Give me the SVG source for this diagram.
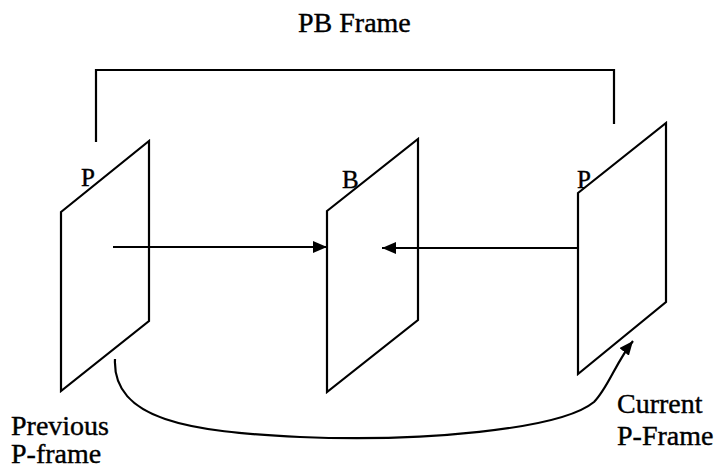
<svg xmlns="http://www.w3.org/2000/svg" width="720" height="469" viewBox="0 0 720 469">
<defs>
<style>
.ln{fill:none;stroke:#000;stroke-width:2.2}
.fr{fill:#fff;stroke:#000;stroke-width:2.2;stroke-linejoin:miter}
.t{font-family:"Liberation Serif","Times New Roman",serif;fill:#000;stroke:#000;stroke-width:0.4}
.lbl{font-size:28px}
.fl{font-size:25px}
</style>
<marker id="ah" viewBox="0 0 14 12" refX="14" refY="6" markerWidth="14" markerHeight="12" markerUnits="userSpaceOnUse" orient="auto">
<path d="M0,0 L14,6 L0,12 Z" fill="#000"/>
</marker>
</defs>
<rect width="720" height="469" fill="#fff"/>
<text class="t lbl" x="298" y="32">PB Frame</text>
<g id="frame-prev">
<polygon class="fr" points="61,212 149,141 149,321 61,391"/>
<text class="t fl" x="81" y="186">P</text>
</g>
<g id="frame-b">
<polygon class="fr" points="327,211 418,139 418,320 327,392"/>
<text class="t fl" x="342" y="188">B</text>
</g>
<g id="frame-cur">
<polygon class="fr" points="578,193 666,123 666,302 578,374"/>
<text class="t fl" x="577" y="188">P</text>
</g>
<g id="connectors">
<path class="ln" d="M96,142 V70 H614 V124"/>
<path class="ln" d="M113,247 H327" marker-end="url(#ah)"/>
<path class="ln" d="M578,248 H382" marker-end="url(#ah)"/>
<path class="ln" d="M115,359 C112,420 190,432 300,437 C420,442 560,430 594,402 C608,388 616,362 633,341" marker-end="url(#ah)"/>
</g>
<text class="t lbl" x="11" y="435">Previous</text>
<text class="t lbl" x="11" y="463">P-frame</text>
<text class="t lbl" x="617" y="413">Current</text>
<text class="t lbl" x="617" y="445">P-Frame</text>
</svg>
